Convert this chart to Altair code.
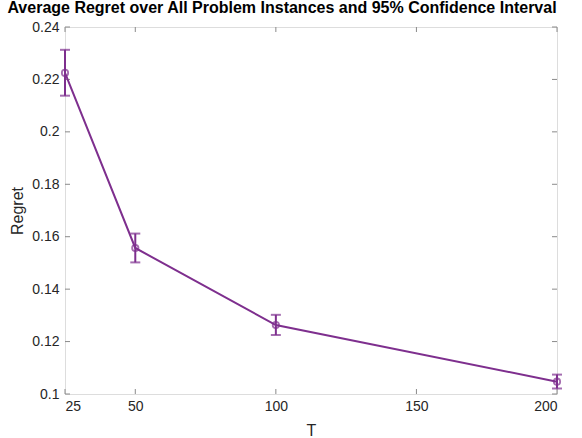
import altair as alt
import pandas as pd

# Average regret per horizon T with 95% confidence bounds
T = [25, 50, 100, 200]
regret = [0.2225, 0.1557, 0.1263, 0.1047]
ci_low = [0.2138, 0.1502, 0.1225, 0.1021]
ci_high = [0.2313, 0.1612, 0.1302, 0.1074]

x_ticks = [25, 50, 100, 150, 200]
y_ticks = [0.10, 0.12, 0.14, 0.16, 0.18, 0.20, 0.22, 0.24]

W, H = 492, 367
PURPLE = "#7E2F8E"
FONT = "Liberation Sans"
AXIS_GRAY = "#8a8a8a"

df = pd.DataFrame({"T": T, "regret": regret, "lo": ci_low, "hi": ci_high})
xt = pd.DataFrame({"t": x_ticks})
yt = pd.DataFrame({"v": y_ticks})

xs = alt.Scale(domain=[25, 200], nice=False, zero=False)
ys = alt.Scale(domain=[0.1, 0.24], nice=False, zero=False)

x_axis = alt.Axis(values=x_ticks, title="T", tickSize=0, labelPadding=5,
                  labelFontSize=14, labelColor="#262626", titleFontSize=16,
                  titleFontWeight="normal", titleColor="#262626", titlePadding=9,
                  labelFont=FONT, titleFont=FONT, grid=False, domain=False)
y_axis = alt.Axis(values=y_ticks, title="Regret", format="~g", tickSize=0,
                  labelPadding=6, labelFontSize=14, labelColor="#262626",
                  titleFontSize=16, titleFontWeight="normal", titleColor="#262626",
                  titlePadding=6, labelFont=FONT, titleFont=FONT, grid=False,
                  domain=False)

base = alt.Chart(df)

line = base.mark_line(color=PURPLE, strokeWidth=2).encode(
    x=alt.X("T:Q", scale=xs, axis=x_axis),
    y=alt.Y("regret:Q", scale=ys, axis=y_axis),
)
bars = base.mark_rule(color=PURPLE, strokeWidth=2).encode(
    x="T:Q", y="lo:Q", y2="hi:Q"
)
cap_lo = base.mark_tick(color=PURPLE, orient="horizontal", size=10, thickness=2).encode(
    x="T:Q", y="lo:Q"
)
cap_hi = base.mark_tick(color=PURPLE, orient="horizontal", size=10, thickness=2).encode(
    x="T:Q", y="hi:Q"
)
pts = base.mark_point(color=PURPLE, shape="circle", size=40, strokeWidth=1.8,
                      filled=False).encode(x="T:Q", y="regret:Q")

# inward-pointing tick marks on all four sides of the box
tk = dict(color=AXIS_GRAY, strokeWidth=1)
xb = alt.Chart(xt).mark_rule(**tk).encode(
    x="t:Q", y=alt.datum(0.1), y2=alt.value(H - 5))
xtop = alt.Chart(xt).mark_rule(**tk).encode(
    x="t:Q", y=alt.datum(0.24), y2=alt.value(5))
yl = alt.Chart(yt).mark_rule(**tk).encode(
    y="v:Q", x=alt.datum(25), x2=alt.value(5))
yr = alt.Chart(yt).mark_rule(**tk).encode(
    y="v:Q", x=alt.datum(200), x2=alt.value(W - 5))

chart = alt.layer(xb, xtop, yl, yr, line, bars, cap_lo, cap_hi, pts).properties(
    width=W, height=H,
    title=alt.TitleParams(
        "Average Regret over All Problem Instances and 95% Confidence Interval",
        font=FONT, fontSize=16, fontWeight="bold", color="#000000",
        anchor="middle", offset=4, dx=-29),
    autosize=alt.AutoSizeParams(type="none"),
    padding={"left": 65, "top": 27, "right": 25, "bottom": 44},
).configure_view(
    stroke=AXIS_GRAY, strokeWidth=1
).configure(background="white")

chart.save("out.html", embed_options={"renderer": "svg", "actions": False})
